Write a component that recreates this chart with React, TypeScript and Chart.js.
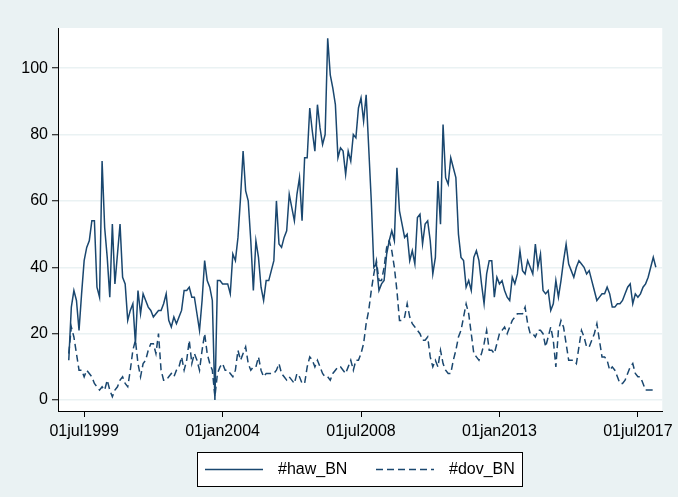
import React, { useEffect, useRef } from "react";
import { Chart, registerables } from "chart.js";

Chart.register(...registerables);

// Monthly observations, month index 0 = January 1999
const hawBN = [
  12, 28, 33, 30, 21, 32, 42, 46, 48, 54, 54, 34,
  31, 72, 52, 43, 31, 53, 35, 44, 53, 37, 35, 24,
  27, 29, 17, 33, 26, 32, 30, 28, 27, 25, 26, 27,
  27, 29, 32, 24, 22, 25, 23, 25, 27, 33, 33, 34,
  31, 31, 26, 21, 30, 42, 36, 34, 30, 0, 36, 36,
  35, 35, 35, 32, 44, 42, 49, 61, 75, 63, 60, 48,
  33, 48, 43, 34, 30, 36, 36, 39, 42, 60, 47, 46,
  49, 51, 62, 58, 54, 62, 67, 54, 73, 73, 88, 81,
  75, 89, 82, 77, 80, 109, 98, 94, 89, 73, 76, 75,
  68, 75, 72, 80, 79, 88, 91, 84, 92, 76, 60, 40,
  41, 33, 35, 36, 44, 48, 51, 48, 70, 57, 53, 49,
  50, 42, 45, 41, 55, 56, 47, 53, 54, 48, 38, 43,
  66, 53, 83, 67, 65, 73, 70, 67, 50, 43, 42, 34,
  36, 33, 43, 45, 42, 35, 29, 38, 42, 42, 31, 37,
  35, 36, 33, 31, 30, 37, 35, 38, 45, 39, 38, 42,
  40, 38, 47, 40, 44, 33, 32, 33, 27, 29, 36, 31,
  36, 42, 47, 41, 39, 37, 40, 42, 41, 40, 38, 39,
  36, 33, 30, 31, 32, 32, 34, 32, 28, 28, 29, 29,
  30, 32, 34, 35, 29, 32, 31, 32, 34, 35, 37, 40,
  43, 40,
];

const dovBN = [
  14, 22, 19, 14, 9, 9, 7, 9, 8, 7, 5, 4,
  3, 4, 3, 6, 3, 1, 3, 4, 6, 7, 5, 4,
  9, 15, 18, 11, 7, 11, 12, 15, 17, 17, 14, 20,
  9, 6, 6, 7, 8, 7, 9, 10, 13, 9, 12, 18,
  11, 14, 12, 9, 15, 20, 14, 11, 9, 1, 8, 10,
  11, 9, 9, 8, 7, 9, 15, 12, 14, 16, 11, 9,
  10, 10, 13, 9, 7, 8, 8, 8, 8, 9, 11, 8,
  7, 6, 7, 6, 5, 8, 7, 5, 5, 10, 13, 12,
  10, 12, 10, 8, 7, 7, 6, 8, 9, 10, 10, 9,
  8, 10, 12, 9, 12, 12, 14, 17, 23, 27, 33, 38,
  42, 36, 36, 40, 46, 48, 45, 40, 33, 24, 24, 25,
  29, 25, 23, 22, 21, 20, 18, 18, 19, 13, 10, 12,
  10, 15, 11, 9, 8, 8, 12, 15, 19, 21, 25, 29,
  26, 20, 14, 13, 12, 14, 17, 21, 15, 15, 14, 17,
  20, 21, 22, 20, 22, 24, 25, 26, 26, 26, 28, 23,
  20, 20, 19, 21, 21, 20, 16, 19, 22, 18, 10, 21,
  24, 22, 17, 12, 12, 12, 11, 16, 21, 19, 16, 16,
  18, 20, 23, 18, 13, 13, 12, 9, 10, 9, 7, 5,
  5, 6, 8, 10, 11, 8, 7, 7, 5, 3, 3, 3,
  3, 3,
];

const seriesNames = ["#haw_BN", "#dov_BN"];
const xTickMonths = [6, 60, 114, 168, 222];
const xTickLabels = ["01jul1999", "01jan2004", "01jul2008", "01jan2013", "01jul2017"];
const yTickValues = [0, 20, 40, 60, 80, 100];

const LINE_COLOR = "#1A476F";
const OUTER_BG = "#EAF2F3";
const FONT_FAMILY = "'Liberation Sans', Arial, Helvetica, sans-serif";

const stataPlugin = {
  id: "stataLook",
  beforeDraw(chart: any) {
    const { ctx, chartArea: a, width, height } = chart;
    ctx.save();
    ctx.fillStyle = OUTER_BG;
    ctx.fillRect(0, 0, width, height);
    ctx.fillStyle = "#FFFFFF";
    ctx.fillRect(a.left, a.top, a.right - a.left, a.bottom - a.top);
    ctx.restore();
  },
  afterDraw(chart: any) {
    const { ctx } = chart;
    const bx = 197, by = 452, bw = 325, bh = 34;
    ctx.save();
    ctx.fillStyle = "#FFFFFF";
    ctx.fillRect(bx, by, bw, bh);
    ctx.strokeStyle = "#000000";
    ctx.lineWidth = 1;
    ctx.strokeRect(bx + 0.5, by + 0.5, bw, bh);
    const cy = by + bh / 2 + 0.5;
    const dash = [[], [7, 4]];
    const lx = [205, 376];
    ctx.font = `16px ${FONT_FAMILY}`;
    ctx.textBaseline = "middle";
    ctx.textAlign = "left";
    seriesNames.forEach((name, i) => {
      ctx.strokeStyle = LINE_COLOR;
      ctx.lineWidth = 1.5;
      ctx.setLineDash(dash[i]);
      ctx.beginPath();
      ctx.moveTo(lx[i], cy);
      ctx.lineTo(lx[i] + 58, cy);
      ctx.stroke();
      ctx.setLineDash([]);
      ctx.fillStyle = "#000000";
      ctx.fillText(name, lx[i] + 73, cy);
    });
    ctx.restore();
  },
};

export default function App() {
  const canvasRef = useRef<HTMLCanvasElement | null>(null);

  useEffect(() => {
    document.body.style.margin = "0";
    const canvas = canvasRef.current;
    if (!canvas) return;
    const chart = new Chart(canvas, {
      type: "line",
      data: {
        datasets: [
          {
            label: seriesNames[0],
            data: hawBN.map((v, i) => ({ x: i, y: v })),
            borderColor: LINE_COLOR,
            borderWidth: 1.5,
            pointRadius: 0,
            tension: 0,
            fill: false,
          },
          {
            label: seriesNames[1],
            data: dovBN.map((v, i) => ({ x: i, y: v })),
            borderColor: LINE_COLOR,
            borderWidth: 1.5,
            borderDash: [7, 4],
            pointRadius: 0,
            tension: 0,
            fill: false,
          },
        ],
      },
      options: {
        responsive: false,
        animation: false,
        devicePixelRatio: 1,
        layout: { padding: { top: 28, right: 10, left: 0, bottom: 0 } },
        plugins: {
          legend: { display: false },
          tooltip: { enabled: false },
        },
        scales: {
          x: {
            type: "linear",
            min: -4.2,
            max: 231.5,
            afterBuildTicks: (s: any) => {
              s.ticks = xTickMonths.map((v) => ({ value: v }));
            },
            afterFit: (s: any) => {
              s.height = 86;
            },
            grid: {
              drawOnChartArea: false,
              tickLength: 6,
              tickColor: "#000000",
              tickWidth: 1,
            },
            border: { color: "#000000", width: 1 },
            ticks: {
              autoSkip: false,
              maxRotation: 0,
              padding: 5,
              color: "#000000",
              font: { family: FONT_FAMILY, size: 16 },
              callback: (v: any) => {
                const k = xTickMonths.indexOf(Number(v));
                return k >= 0 ? xTickLabels[k] : "";
              },
            },
          },
          y: {
            min: -3.3,
            max: 112.1,
            afterBuildTicks: (s: any) => {
              s.ticks = yTickValues.map((v) => ({ value: v }));
            },
            afterFit: (s: any) => {
              s.width = 58;
            },
            grid: {
              color: "#EAF2F3",
              lineWidth: 1.5,
              tickLength: 6,
              tickColor: "#000000",
              tickWidth: 1,
            },
            border: { color: "#000000", width: 1 },
            ticks: {
              padding: 4,
              color: "#000000",
              font: { family: FONT_FAMILY, size: 16 },
              callback: (v: any) => String(v),
            },
          },
        },
      },
      plugins: [stataPlugin],
    });
    return () => chart.destroy();
  }, []);

  return (
    <div style={{ width: 678, height: 497, position: "relative" }}>
      <canvas ref={canvasRef} width={678} height={497} style={{ display: "block" }} />
    </div>
  );
}
